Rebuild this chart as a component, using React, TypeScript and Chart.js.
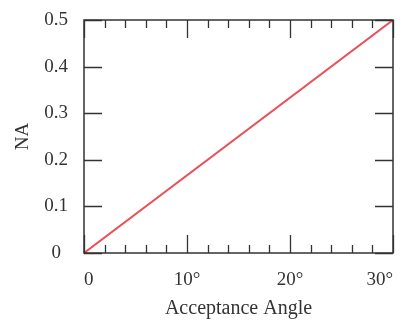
import React, { useEffect, useRef } from "react";
import { Chart, registerables } from "chart.js";

Chart.register(...registerables);

// Data
const angleDeg = [0, 30];
const naValues = [0, 0.5];
const xTickValues = [0, 10, 20, 30];
const xTickLabels = ["0", "10°", "20°", "30°"];
const yTickValues = [0, 0.1, 0.2, 0.3, 0.4, 0.5];
const yTickLabels = ["0", "0.1", "0.2", "0.3", "0.4", "0.5"];
const xMinorStep = 2;

const FONT = "'Liberation Serif', 'Times New Roman', serif";
const INK = "#333333";

const frameAndTicks = {
  id: "frameAndTicks",
  afterDraw(chart: any) {
    const { ctx, chartArea } = chart;
    const xs = chart.scales.x;
    const ys = chart.scales.y;
    const { left, right, top, bottom } = chartArea;
    ctx.save();
    ctx.strokeStyle = INK;
    ctx.lineWidth = 1.5;
    ctx.strokeRect(left, top, right - left, bottom - top);
    ctx.lineWidth = 1.3;
    const major = 18;
    const minor = 8;
    ctx.beginPath();
    for (let v = xs.min; v <= xs.max + 1e-9; v += xMinorStep) {
      const px = Math.round(xs.getPixelForValue(v)) + 0.5;
      const len = xTickValues.includes(v) ? major : minor;
      ctx.moveTo(px, bottom);
      ctx.lineTo(px, bottom - len);
      ctx.moveTo(px, top);
      ctx.lineTo(px, top + len);
    }
    for (const v of yTickValues) {
      const py = Math.round(ys.getPixelForValue(v)) + 0.5;
      ctx.moveTo(left, py);
      ctx.lineTo(left + major, py);
      ctx.moveTo(right, py);
      ctx.lineTo(right - major, py);
    }
    ctx.stroke();
    ctx.restore();
  },
};

export default function App() {
  const ref = useRef<HTMLCanvasElement | null>(null);
  useEffect(() => {
    document.body.style.margin = "0";
    const canvas = ref.current;
    if (!canvas) return;
    const chart = new Chart(canvas, {
      type: "scatter",
      data: {
        datasets: [
          {
            data: angleDeg.map((a, i) => ({ x: a, y: naValues[i] })),
            showLine: true,
            borderColor: "#e8505a",
            borderWidth: 2,
            pointRadius: 0,
            fill: false,
          },
        ],
      },
      plugins: [frameAndTicks],
      options: {
        animation: false,
        responsive: false,
        layout: { padding: { top: 20, right: 8, left: 0, bottom: 0 } },
        plugins: { legend: { display: false }, tooltip: { enabled: false } },
        scales: {
          x: {
            type: "linear",
            min: 0,
            max: 30,
            afterBuildTicks: (s: any) => {
              s.ticks = xTickValues.map((v) => ({ value: v }));
            },
            afterFit: (s: any) => {
              s.height = 68;
              s.paddingLeft = 0;
              s.paddingRight = 0;
            },
            grid: { display: false, drawTicks: false },
            border: { display: false },
            ticks: {
              padding: 16,
              align: "inner",
              color: INK,
              font: { family: FONT, size: 19 },
              maxRotation: 0,
              callback: (v: any) => {
                const i = xTickValues.indexOf(Number(v));
                return i >= 0 ? xTickLabels[i] : "";
              },
            },
            title: {
              display: true,
              text: "Acceptance Angle",
              color: INK,
              font: { family: FONT, size: 20 },
              padding: { top: 5, bottom: 0 },
            },
          },
          y: {
            type: "linear",
            min: 0,
            max: 0.5,
            afterBuildTicks: (s: any) => {
              s.ticks = yTickValues.map((v) => ({ value: v }));
            },
            afterFit: (s: any) => {
              s.width = 84;
              s.paddingTop = 0;
              s.paddingBottom = 0;
            },
            grid: { display: false, drawTicks: false },
            border: { display: false },
            ticks: {
              padding: 16,
              crossAlign: "center",
              color: INK,
              font: { family: FONT, size: 19 },
              callback: (v: any) => {
                const i = yTickValues.findIndex((t) => Math.abs(t - Number(v)) < 1e-9);
                return i >= 0 ? yTickLabels[i] : "";
              },
            },
            title: {
              display: true,
              text: "NA",
              color: INK,
              font: { family: FONT, size: 19 },
              padding: { top: 12, bottom: 0 },
            },
          },
        },
      },
    } as any);
    return () => chart.destroy();
  }, []);
  return (
    <div style={{ width: 401, height: 321, background: "#fff" }}>
      <canvas ref={ref} width={401} height={321} />
    </div>
  );
}
